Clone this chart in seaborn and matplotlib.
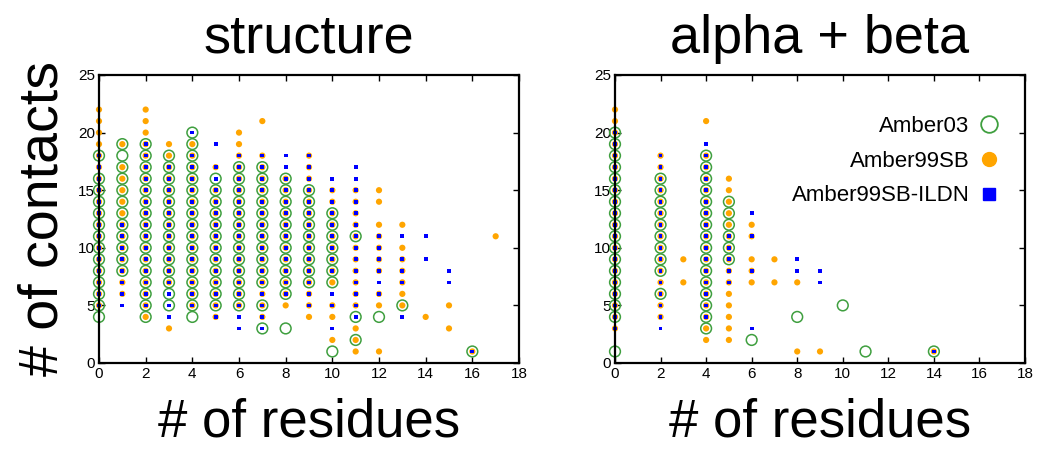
import pandas as pd
import seaborn as sns
from matplotlib import pyplot as plt
from matplotlib.lines import Line2D

# contacts observed for each number of residues, one dict per force field
# key = # of residues, value = list of # of contacts

# --- panel 1: structure ---
struct_amber03 = {
    0: [4, 5, 6, 7, 8, 9, 10, 11, 12, 13, 14, 15, 16, 18],
    1: [8, 9, 10, 11, 12, 13, 14, 15, 16, 17, 18, 19],
    2: [4, 5, 6, 7, 8, 9, 10, 11, 12, 13, 14, 15, 16, 17, 18, 19],
    3: [5, 6, 7, 8, 9, 10, 11, 12, 13, 14, 15, 16, 17, 18],
    4: [4, 5, 6, 7, 8, 9, 10, 11, 12, 13, 14, 15, 16, 17, 18, 19, 20],
    5: [5, 6, 7, 8, 9, 10, 11, 12, 13, 14, 15, 16],
    6: [5, 6, 7, 8, 9, 10, 11, 12, 13, 14, 15, 16, 17],
    7: [3, 5, 7, 8, 9, 10, 11, 12, 13, 14, 15, 16, 17],
    8: [3, 6, 7, 8, 9, 10, 11, 12, 13, 14, 15, 16],
    9: [7, 8, 9, 10, 11, 12, 13, 14, 15],
    10: [1, 7, 8, 9, 10, 11, 12, 13],
    11: [2, 4, 11],
    12: [4],
    13: [5],
    16: [1],
}
struct_amber99sb = {
    0: [5, 6, 7, 8, 9, 10, 11, 12, 13, 14, 15, 16, 17, 18, 19, 20, 21, 22],
    1: [6, 7, 8, 9, 10, 11, 12, 13, 14, 15, 16, 17, 19],
    2: [4, 5, 6, 7, 8, 9, 10, 11, 12, 13, 14, 15, 16, 17, 18, 19, 20, 21, 22],
    3: [3, 7, 8, 9, 10, 11, 12, 13, 14, 15, 16, 17, 18, 19],
    4: [5, 6, 7, 8, 9, 10, 11, 12, 13, 14, 15, 16, 17, 18, 19],
    5: [4, 5, 6, 7, 8, 9, 10, 11, 12, 13, 14, 15, 17],
    6: [5, 6, 7, 8, 9, 10, 11, 12, 13, 14, 15, 16, 17, 18, 19, 20],
    7: [4, 5, 6, 7, 8, 9, 10, 11, 12, 13, 14, 15, 16, 17, 18, 21],
    8: [5, 6, 7, 8, 9, 10, 11, 12, 13, 14, 15, 16],
    9: [4, 5, 6, 7, 8, 9, 10, 11, 12, 13, 14, 15, 16, 17, 18],
    10: [2, 4, 5, 7, 8, 9, 10, 11, 12, 13, 14, 15],
    11: [1, 2, 3, 5, 6, 7, 8, 9, 10, 11, 12, 13, 14, 15],
    12: [1, 5, 6, 8, 9, 10, 11, 12, 14, 15],
    13: [5, 6, 7, 8, 9, 10, 12],
    14: [4],
    15: [3, 5],
    16: [1],
    17: [11],
}
struct_ildn = {
    0: [5, 6, 7, 8, 9, 10, 11, 12, 13, 14, 15, 16, 17, 18],
    1: [5, 6, 7, 8, 9, 10, 11, 12],
    2: [5, 6, 7, 8, 9, 10, 11, 12, 13, 14, 15, 16, 17, 18, 19],
    3: [4, 5, 6, 7, 8, 9, 10, 11, 12, 13, 14, 15, 16, 17],
    4: [5, 6, 7, 8, 9, 10, 11, 12, 13, 14, 15, 16, 17, 18, 20],
    5: [4, 5, 6, 7, 8, 9, 10, 11, 12, 13, 14, 15, 16, 17, 19],
    6: [3, 4, 5, 6, 7, 8, 9, 10, 11, 12, 13, 14, 15, 16, 17, 18],
    7: [3, 4, 5, 6, 7, 8, 9, 10, 11, 12, 13, 14, 15, 16, 17, 18],
    8: [6, 7, 8, 9, 10, 11, 12, 13, 14, 15, 16, 17, 18],
    9: [5, 6, 7, 8, 9, 10, 11, 12, 13, 14, 15, 16, 17, 18],
    10: [3, 5, 6, 8, 9, 10, 11, 12, 13, 14, 15, 16],
    11: [4, 5, 6, 7, 8, 9, 10, 11, 12, 13, 14, 15, 16, 17],
    12: [6, 7, 8, 9, 10, 11],
    13: [4, 7, 8, 9, 11],
    14: [9, 11],
    15: [7, 8],
    16: [1],
}

# --- panel 2: alpha + beta ---
ab_amber03 = {
    0: [1, 4, 5, 6, 7, 8, 9, 10, 11, 12, 13, 14, 15, 16, 17, 18, 19, 20],
    2: [6, 8, 9, 10, 11, 12, 13, 14, 15, 16],
    4: [3, 4, 5, 6, 7, 8, 9, 10, 11, 12, 13, 14, 15, 16, 17, 18],
    5: [9, 10, 11, 12, 13, 14],
    6: [2],
    8: [4],
    10: [5],
    11: [1],
    14: [1],
}
ab_amber99sb = {
    0: [3, 4, 5, 6, 7, 8, 9, 10, 11, 12, 13, 14, 15, 16, 17, 18, 19, 20, 21, 22],
    2: [4, 5, 6, 7, 8, 9, 10, 11, 12, 13, 14, 15, 16, 17, 18],
    3: [7, 9],
    4: [2, 3, 4, 5, 6, 7, 8, 9, 10, 11, 12, 13, 14, 15, 16, 17, 18, 21],
    5: [2, 3, 4, 5, 6, 7, 8, 9, 10, 11, 12, 13, 14, 15, 16],
    6: [7, 8, 9, 11, 12],
    7: [7, 9],
    8: [1, 7],
    9: [1],
    14: [1],
}
ab_ildn = {
    0: [3, 4, 5, 6, 7, 8, 9, 10, 11, 12, 13, 14, 15, 16, 17, 18, 19, 20],
    2: [3, 4, 5, 6, 7, 8, 9, 10, 11, 12, 13, 14, 15, 16, 17, 18],
    4: [4, 5, 6, 7, 8, 9, 10, 11, 12, 13, 14, 15, 16, 17, 18, 19],
    5: [7, 8, 9, 10, 11],
    6: [3, 8, 11, 13],
    8: [8, 9],
    9: [7, 8],
    14: [1],
}

titles = ["structure", "alpha + beta"]
labels = ["Amber03", "Amber99SB", "Amber99SB-ILDN"]
green = "#3f9f3f"
orange = "#ffa500"
blue = "#0000ff"


def to_frame(d):
    rows = []
    for res, contacts in d.items():
        for c in contacts:
            rows.append((res, c))
    return pd.DataFrame(rows, columns=["residues", "contacts"])


sns.set_style("ticks")
plt.rcParams['font.family'] = ['Liberation Sans', 'DejaVu Sans']
plt.rcParams['xtick.direction'] = 'in'
plt.rcParams['ytick.direction'] = 'in'
plt.rcParams['xtick.top'] = True
plt.rcParams['ytick.right'] = True
plt.rcParams['text.color'] = 'black'
plt.rcParams['axes.labelcolor'] = 'black'
plt.rcParams['xtick.color'] = 'black'
plt.rcParams['ytick.color'] = 'black'
plt.rcParams['axes.edgecolor'] = 'black'

fig = plt.figure(figsize=(10.43, 4.5), dpi=100)
ax1 = fig.add_axes([99 / 1043, 87 / 450, 420 / 1043, 288 / 450])
ax2 = fig.add_axes([615 / 1043, 87 / 450, 410 / 1043, 288 / 450])

panels = [
    (ax1, struct_amber03, struct_amber99sb, struct_ildn),
    (ax2, ab_amber03, ab_amber99sb, ab_ildn),
]

for i, (ax, a03, a99, ildn) in enumerate(panels):
    sns.scatterplot(data=to_frame(a03), x="residues", y="contacts", ax=ax,
                    marker="o", s=60, color=green, facecolor="none",
                    edgecolor=green, linewidth=1.1, zorder=3, clip_on=False)
    sns.scatterplot(data=to_frame(a99), x="residues", y="contacts", ax=ax,
                    marker="o", s=20, color=orange, edgecolor="none",
                    linewidth=0, zorder=4, clip_on=False)
    sns.scatterplot(data=to_frame(ildn), x="residues", y="contacts", ax=ax,
                    marker="s", s=7, color=blue, edgecolor="none",
                    linewidth=0, zorder=5, clip_on=False)
    ax.set_xlim(0, 18)
    ax.set_ylim(0, 25)
    ax.set_xticks(range(0, 19, 2))
    ax.set_yticks(range(0, 26, 5))
    ax.tick_params(labelsize=11, length=4, width=1, pad=3)
    for sp in ax.spines.values():
        sp.set_linewidth(1.6)
        sp.set_zorder(6)
    ax.set_title(titles[i], fontsize=39, pad=16)
    ax.set_xlabel("# of residues", fontsize=38, labelpad=12)
    ax.set_ylabel("")

ax1.set_ylabel("# of contacts", fontsize=40, labelpad=6)

handles = [
    Line2D([], [], ls="none", marker="o", markersize=12, markerfacecolor="none",
           markeredgecolor=green, markeredgewidth=1.3),
    Line2D([], [], ls="none", marker="o", markersize=10, color=orange),
    Line2D([], [], ls="none", marker="s", markersize=9, color=blue),
]
ax2.legend(handles, labels, loc="upper right", bbox_to_anchor=(1.0, 0.935),
           frameon=False, markerfirst=False,
           fontsize=16, handletextpad=0.3, labelspacing=0.62, borderaxespad=0.6,
           handlelength=1.2)

plt.savefig("out.png", dpi=100)
